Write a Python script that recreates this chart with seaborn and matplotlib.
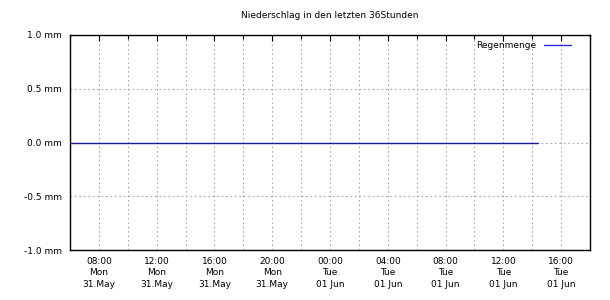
import matplotlib
matplotlib.use("Agg")
import matplotlib.pyplot as plt
import matplotlib.dates as mdates
import seaborn as sns
import pandas as pd
import numpy as np

# data
times = pd.date_range("2021-05-31 06:00", "2021-06-01 14:00", freq="1h").append(
    pd.DatetimeIndex(["2021-06-01 14:25"]))
rain = [0.0] * len(times)
tick_times = pd.date_range("2021-05-31 08:00", "2021-06-01 16:00", freq="4h")
tick_labels = ["08:00\nMon\n31.May", "12:00\nMon\n31.May", "16:00\nMon\n31.May",
               "20:00\nMon\n31.May", "00:00\nTue\n01 Jun", "04:00\nTue\n01 Jun",
               "08:00\nTue\n01 Jun", "12:00\nTue\n01 Jun", "16:00\nTue\n01 Jun"]
y_ticks = [-1.0, -0.5, 0.0, 0.5, 1.0]
y_labels = ["-1.0 mm", "-0.5 mm", "0.0 mm", "0.5 mm", "1.0 mm"]

sns.set_theme(style="white")
plt.rcParams['font.family'] = ['DejaVu Sans']
plt.rcParams['text.color'] = 'black'
plt.rcParams['xtick.color'] = 'black'
plt.rcParams['ytick.color'] = 'black'

fig = plt.figure(figsize=(6.1, 3.0), dpi=100)
ax = fig.add_axes([70/610, 1-250/300, 520/610, 215/300])

df = pd.DataFrame({"time": times, "Regenmenge": rain})
sns.lineplot(data=df, x="time", y="Regenmenge", ax=ax, color="#1c1c9a",
             linewidth=1.0, label="Regenmenge")

ax.set_xlim(pd.Timestamp("2021-05-31 06:00"), pd.Timestamp("2021-06-01 18:00"))
ax.set_ylim(-1.0, 1.0)

ax.set_xticks(tick_times)
ax.set_xticklabels(tick_labels, fontsize=6.5, linespacing=1.35)
ax.xaxis.set_minor_locator(mdates.HourLocator(byhour=[2, 6, 10, 14, 18, 22]))
ax.set_yticks(y_ticks)
ax.set_yticklabels(y_labels, fontsize=6.5)
ax.set_yticks([-0.75, -0.25, 0.25, 0.75], minor=True)

ax.tick_params(which="both", direction="in", top=True, right=False, length=4,
               width=0.8, color="black", labelcolor="black")
ax.tick_params(axis="x", which="major", pad=5)
ax.tick_params(which="minor", length=3)
ax.tick_params(axis="y", which="major", labelsize=6.5, pad=6)

grid_kw = dict(color="#a8a8a8", linestyle=(0, (1.5, 2.5)), linewidth=0.8)
ax.grid(True, which="major", **grid_kw)
ax.grid(True, which="minor", axis="x", **grid_kw)
ax.set_axisbelow(True)

for s in ax.spines.values():
    s.set_color("black")
    s.set_linewidth(1.0)

ax.set_xlabel("")
ax.set_ylabel("")
ax.set_title("Niederschlag in den letzten 36Stunden", fontsize=6.5, pad=12,
             color="black")

leg = ax.legend(loc="upper right", frameon=False, fontsize=6.5, handlelength=3.0,
                markerfirst=False, borderaxespad=0.3,
                bbox_to_anchor=(0.975, 1.0))
for t in leg.get_texts():
    t.set_color("black")
for h in leg.get_lines():
    h.set_color("#2a2ae0")

fig.savefig("out.png", dpi=100)
